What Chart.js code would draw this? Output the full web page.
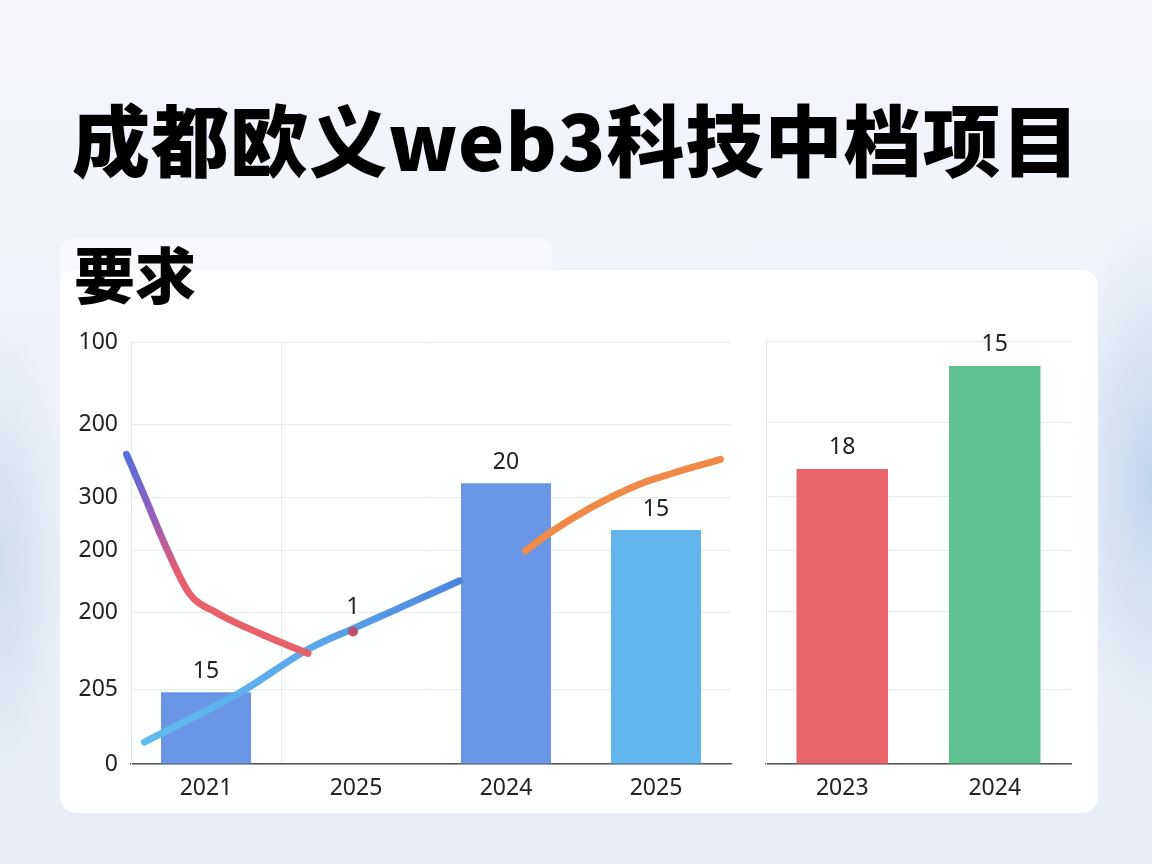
<!DOCTYPE html>
<html>
<head>
<meta charset="utf-8">
<script src="https://cdn.jsdelivr.net/npm/chart.js@4.4.1/dist/chart.umd.min.js"></script>
<style>
  html, body { margin:0; padding:0; }
  body {
    width:1152px; height:864px; overflow:hidden; position:relative;
    background:
      radial-gradient(ellipse 90px 260px at 1152px 480px, rgba(150,185,230,0.5), rgba(150,185,230,0) 100%),
      radial-gradient(ellipse 70px 240px at 0px 560px, rgba(160,190,230,0.4), rgba(160,190,230,0) 100%),
      linear-gradient(180deg, #f4f6fa 0%, #eef2f8 45%, #e9eef6 100%);
    font-family: "Noto Sans CJK SC", "Noto Sans", sans-serif;
  }
  .title {
    position:absolute; left:72px; top:98px; font-size:78px; line-height:1;
    font-weight:900; color:#000; white-space:nowrap; letter-spacing:1px;
  }
  .tab {
    position:absolute; left:60px; top:238px; width:492px; height:50px;
    background:rgba(250,251,253,0.75); border-radius:14px 14px 0 0;
  }
  .sub {
    position:absolute; left:74px; top:242px; font-size:61px; line-height:1;
    font-weight:900; color:#000;
  }
  .card {
    position:absolute; left:60px; top:270px; width:1038px; height:543px;
    background:rgba(255,255,255,0.95); border-radius:16px;
  }
  #left { position:absolute; left:60px; top:316px; }
  #right { position:absolute; left:763px; top:320px; }
</style>
</head>
<body>
<div class="title">成都欧义web3科技中档项目</div>
<div class="tab"></div>
<div class="card"></div>
<div class="sub">要求</div>
<canvas id="left" width="710" height="494"></canvas>
<canvas id="right" width="322" height="490"></canvas>
<script>
// axis: values are vertical positions, tick texts are what the picture prints
var yTickPos = [0, 75, 152, 214, 268, 341, 423];
var yTickText = ["0", "205", "200", "200", "300", "200", "100"];

var leftCats = ["2021", "2025", "2024", "2025"];
var leftBars = [72, null, 282, 235];
var leftBarText = ["15", "", "20", "15"];
var leftBarColors = ["#6a96e6", "#6a96e6", "#6a96e6", "#63b6ee"];

var rightCats = ["2023", "2024"];
var rightBars = [295, 398];
var rightBarText = ["18", "15"];
var rightBarColors = ["#ea656b", "#5fc18d"];

// curves, x in category units (0..4), y in axis units
var redLineX = [-0.03, 0.09, 0.23, 0.39, 0.57, 0.86, 1.18];
var redLineY = [311, 269, 219, 171, 152, 131, 111];
var blueLineX = [0.09, 0.73, 1.19, 1.48, 1.75, 2.19];
var blueLineY = [22, 72, 116, 136, 154, 184];
var orangeLineX = [2.63, 2.79, 3.06, 3.39, 3.61, 3.93];
var orangeLineY = [214, 232, 257, 281, 292, 306];
var markerX = [1.48];
var markerY = [133];
var markerText = ["1"];

function pts(xs, ys) {
    var out = [];
    for (var i = 0; i < xs.length; i++) out.push({x: xs[i], y: ys[i]});
    return out;
}

var tickFont = {family: "'Noto Sans', Roboto, sans-serif", size: 23};
var tickColor = "#222";

var labelPlugin = {
    id: "barLabels",
    afterDatasetsDraw: function(chart) {
        var ctx = chart.ctx;
        ctx.save();
        ctx.font = "23px 'Noto Sans', Roboto, sans-serif";
        ctx.fillStyle = "#222";
        ctx.textAlign = "center";
        ctx.textBaseline = "middle";
        chart.data.datasets.forEach(function(ds, di) {
            if (!ds.texts) return;
            var meta = chart.getDatasetMeta(di);
            meta.data.forEach(function(el, i) {
                if (!ds.texts[i]) return;
                ctx.fillText(ds.texts[i], el.x, el.y - ds.textGap);
            });
        });
        ctx.restore();
    }
};

function yScale(showLabels, width) {
    return {
        min: 0, max: 423,
        afterBuildTicks: function(s) { s.ticks = yTickPos.map(function(v) { return {value: v}; }); },
        ticks: {
            display: showLabels, autoSkip: false, padding: 13, font: tickFont, color: tickColor,
            callback: function(v, i) { return yTickText[i]; }
        },
        grid: {color: "#ebebeb", drawTicks: false},
        border: {color: "#e4e4e4"},
        afterFit: function(s) { s.width = width; }
    };
}

function xScale(gridFn) {
    return {
        type: "category", offset: true,
        grid: {offset: true, drawTicks: false, color: gridFn},
        border: {color: "#555", width: 1.5},
        ticks: {font: tickFont, color: tickColor, padding: 11},
        afterFit: function(s) { s.height = 46; }
    };
}

new Chart(document.getElementById("left"), {
    type: "bar",
    data: {
        labels: leftCats,
        datasets: [
            {
                type: "bar", data: leftBars, backgroundColor: leftBarColors, grouped: false,
                barPercentage: 0.6, categoryPercentage: 1, order: 2,
                texts: leftBarText, textGap: 21
            },
            {
                type: "line", xAxisID: "xl", data: pts(redLineX, redLineY), order: 1,
                borderWidth: 7, pointRadius: 0, cubicInterpolationMode: "monotone",
                borderCapStyle: "round", clip: false,
                borderColor: function(c) {
                    var a = c.chart.chartArea;
                    if (!a) return "#e8606a";
                    var g = c.chart.ctx.createLinearGradient(0, a.top + 112, 0, a.top + 260);
                    g.addColorStop(0, "#5570dc");
                    g.addColorStop(0.45, "#9a5cb6");
                    g.addColorStop(0.8, "#e55f70");
                    g.addColorStop(1, "#e8606a");
                    return g;
                }
            },
            {
                type: "line", xAxisID: "xl", data: pts(blueLineX, blueLineY), order: 1,
                borderWidth: 7, pointRadius: 0, cubicInterpolationMode: "monotone",
                borderCapStyle: "round",
                borderColor: function(c) {
                    var a = c.chart.chartArea;
                    if (!a) return "#5aa8ea";
                    var g = c.chart.ctx.createLinearGradient(a.left + 14, 0, a.left + 330, 0);
                    g.addColorStop(0, "#5fbdee");
                    g.addColorStop(0.55, "#5aa6ea");
                    g.addColorStop(1, "#4d84de");
                    return g;
                }
            },
            {
                type: "line", xAxisID: "xl", data: pts(orangeLineX, orangeLineY), order: 1,
                borderWidth: 7, pointRadius: 0, cubicInterpolationMode: "monotone",
                borderCapStyle: "round", borderColor: "#f08a48"
            },
            {
                type: "line", xAxisID: "xl", data: pts(markerX, markerY), order: 0,
                showLine: false, pointRadius: 5, pointBackgroundColor: "#b8506e",
                pointBorderWidth: 0, texts: markerText, textGap: 24
            }
        ]
    },
    options: {
        responsive: false, devicePixelRatio: 1, animation: false,
        layout: {padding: {top: 17, right: 39, left: 0, bottom: 0}},
        plugins: {legend: {display: false}, tooltip: {enabled: false}},
        scales: {
            x: xScale(function(c) { return c.index === 1 ? "#e9e9e9" : "rgba(0,0,0,0)"; }),
            xl: {type: "linear", min: 0, max: 4, display: false, offset: false},
            y: yScale(true, 71)
        }
    },
    plugins: [labelPlugin]
});

new Chart(document.getElementById("right"), {
    type: "bar",
    data: {
        labels: rightCats,
        datasets: [{
            data: rightBars, backgroundColor: rightBarColors,
            barPercentage: 0.6, categoryPercentage: 1,
            texts: rightBarText, textGap: 22
        }]
    },
    options: {
        responsive: false, devicePixelRatio: 1, animation: false,
        layout: {padding: {top: 21, right: 14, left: 0, bottom: 0}},
        plugins: {legend: {display: false}, tooltip: {enabled: false}},
        scales: {
            x: xScale("rgba(0,0,0,0)"),
            y: yScale(false, 3)
        }
    },
    plugins: [labelPlugin]
});
</script>
</body>
</html>
